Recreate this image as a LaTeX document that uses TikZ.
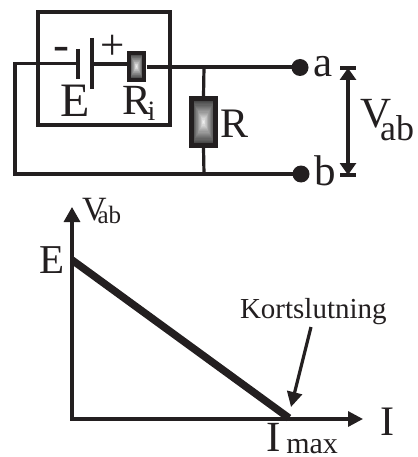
\documentclass[tikz,border=0pt]{standalone}
\usepackage{fontspec}
\setmainfont{Liberation Serif}
\usetikzlibrary{arrows.meta,calc}
\definecolor{ink}{HTML}{231F20}
\newcommand{\fs}[1]{\fontsize{#1}{#1}\selectfont}
\tikzset{
  wire/.style={draw=ink,line width=3.2pt,line cap=butt,line join=miter},
  lbl/.style={inner sep=0pt,outer sep=0pt,anchor=base west,text=ink},
  dot/.style={circle,fill=ink,inner sep=0pt,minimum size=17pt},
  res/.style={rectangle,draw=ink,line width=#1,inner sep=0pt,path picture={
    \foreach \k in {0,1,...,20}{
      \pgfmathsetmacro{\f}{1-\k/20}
      \pgfmathsetmacro{\b}{78*\f^0.85}
      \fill[black!\b!white] ($(path picture bounding box.center)!\f!(path picture bounding box.south west)$) rectangle ($(path picture bounding box.center)!\f!(path picture bounding box.north east)$);
    }}},
  res/.default=4pt,
}
\begin{document}
\begin{tikzpicture}[x=1pt,y=-1pt]
\useasboundingbox (0,0) rectangle (417,457);
% enclosure
\node[draw=ink,line width=3.2pt,inner sep=0pt,minimum width=132pt,minimum height=113pt] (box) at (104,68.5) {};
% components
\coordinate (plateNt) at (78,49); \coordinate (plateNb) at (78,79);
\coordinate (platePt) at (92,38); \coordinate (platePb) at (92,89);
\coordinate (plateNm) at (78,63.5); \coordinate (platePm) at (92,64);
\node[res=3.8pt,minimum width=15pt,minimum height=27pt] (Ri) at (136.5,66.5) {};
\node[res=4.4pt,minimum width=24pt,minimum height=47pt] (Rl) at (203.5,122) {};
\node[dot] (a) at (300,67.5) {};
\node[dot] (b) at (301,174) {};
\coordinate (cl) at (15,63.5);
\coordinate (cb) at (15,174);
\coordinate (jt) at (204,67);
\coordinate (jb) at (204,174);
% wires
\draw[wire] (plateNt) -- (plateNb);
\draw[wire] (platePt) -- (platePb);
\draw[wire] (plateNm) -- (cl) -- (cb) -- (b.center);
\draw[wire] (platePm) -- (Ri.west |- platePm);
\draw[wire] (Ri.east |- jt) ++(1pt,0) -- (a.center |- jt);
\draw[wire] (jt) -- (Rl.north);
\draw[wire] (Rl.south) -- (jb);
% Vab dimension
\coordinate (vt) at (348,68); \coordinate (vb) at (348,175);
\coordinate (vtl) at (340,68); \coordinate (vtr) at (356,68);
\coordinate (vbl) at (340,175); \coordinate (vbr) at (356,175);
\draw[wire] (vtl) -- (vtr);
\draw[wire] (vbl) -- (vbr);
\draw[wire,{Triangle[length=12pt,width=16pt]}-{Triangle[length=12pt,width=16pt]}] (vt) -- (vb);
% circuit labels
\node[lbl] (lm) at (53,61) {\fs{48}-};
\node[lbl] (lp) at (100,60) {\fs{43}+};
\node[lbl] (lE) at (60,117) {\fs{48}E};
\node[lbl] (lR) at (122,115) {\fs{43}R\kern-3pt\raisebox{-6pt}{\fs{28}i}};
\node[lbl] (lRl) at (220,138) {\fs{42}R};
\node[lbl] (la) at (313,77) {\fs{43}a};
\node[lbl] (lb) at (314,185) {\fs{43}b};
\node[lbl] (lV) at (360,128) {\fs{43}V\kern-11pt\raisebox{-13pt}{\fs{36}ab}};
% graph
\coordinate (o) at (72,419);
\coordinate (yt) at (72,207);
\coordinate (xt) at (363,419);
\coordinate (gE) at (72,260);
\coordinate (gI) at (289,418);
\coordinate (ks) at (311,327);
\coordinate (kt) at (291,407);
\draw[wire,{Triangle[length=15pt,width=16pt]}-{Triangle[length=15pt,width=15pt]}] (yt) -- (o) -- (xt);
\draw[draw=ink,line width=7.5pt] (gE) -- (gI);
\draw[wire,-{Triangle[length=15pt,width=15pt]}] (ks) -- (kt);
\node[lbl] (gV) at (82,220) {\fs{34}V\kern-9pt\raisebox{-3pt}{\fs{25}ab}};
\node[lbl] (gEl) at (39,273) {\fs{41}E};
\node[lbl] (kort) at (240,318) {\fs{29}Kortslutning};
\node[lbl] (gIl) at (380,435) {\fs{42}I};
\node[lbl] (gIm) at (266,451) {\fs{43}I\kern6pt\raisebox{-2pt}{\fs{30}max}};
\end{tikzpicture}
\end{document}
